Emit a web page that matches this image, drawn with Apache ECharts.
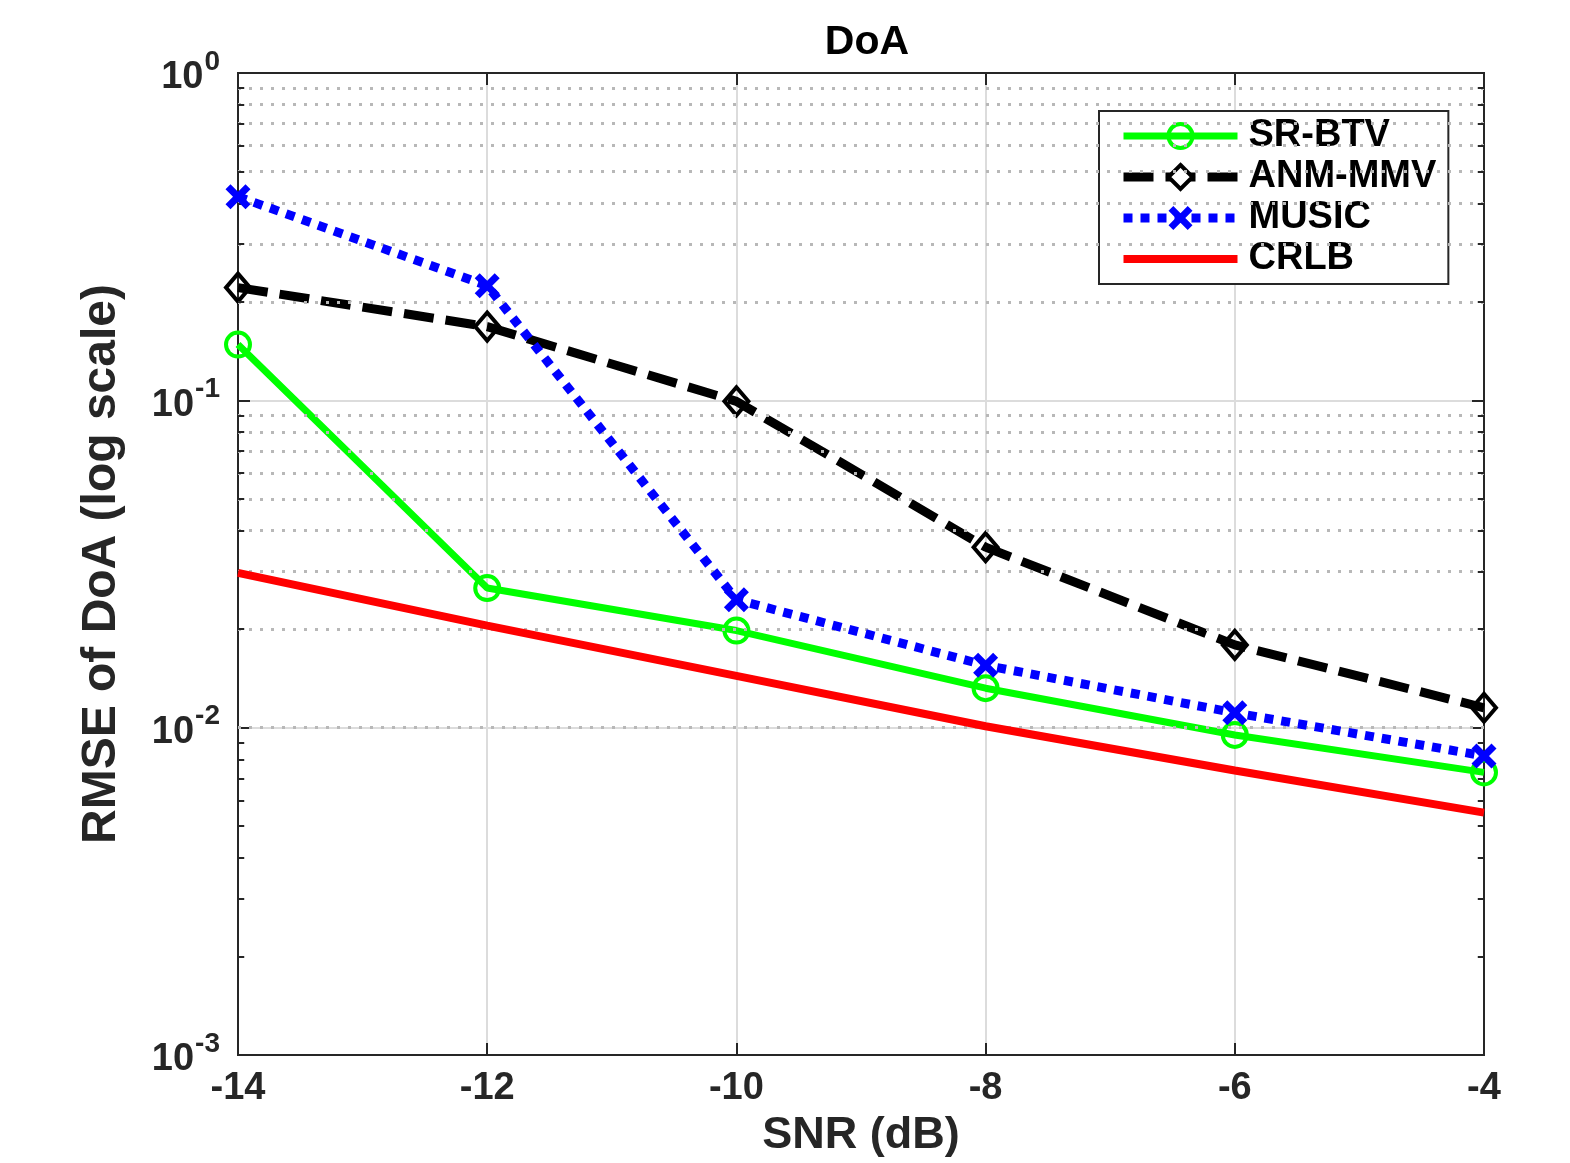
<!DOCTYPE html>
<html>
<head>
<meta charset="utf-8">
<script src="https://cdn.jsdelivr.net/npm/echarts@6/dist/echarts.min.js"></script>
<style>html,body{margin:0;padding:0;background:#fff}#c{width:1570px;height:1163px}</style>
</head>
<body>
<div id="c"></div>
<script>
const snr = [-14, -12, -10, -8, -6, -4];
const srbtv = [0.148, 0.0267, 0.0198, 0.0132, 0.0095, 0.0073];
const anmmmv = [0.221, 0.168, 0.0993, 0.0356, 0.0179, 0.0115];
const music = [0.419, 0.224, 0.0246, 0.0155, 0.0111, 0.0082];
const crlb = [0.0297, 0.0205, 0.0144, 0.0101, 0.0074, 0.0055];
const minorVals = [];
[0.001, 0.01, 0.1].forEach(d => { for (let k = 2; k <= 9; k++) minorVals.push(+(d * k).toPrecision(3)); });

const FONT = '"Liberation Sans", Arial, sans-serif';
const pair = arr => snr.map((x, i) => [x, arr[i]]);

const minorGrid = minorVals.map(v => ({ yAxis: v }));
const minorTicks = [];
minorVals.forEach(v => {
  minorTicks.push([{ coord: [-14, v] }, { coord: [-13.95, v] }]);
  minorTicks.push([{ coord: [-4, v] }, { coord: [-4.05, v] }]);
});

const xPath = 'path://M0,2L2,0L5,3L8,0L10,2L7,5L10,8L8,10L5,7L2,10L0,8L3,5Z';

const S = {
  sr: { color: '#00ff00', width: 7, type: 'solid' },
  anm: { color: '#000000', width: 9, type: [30, 12] },
  mu: { color: '#0000ff', width: 9, type: [9, 8] },
  cr: { color: '#ff0000', width: 8, type: 'solid' }
};

const chart = echarts.init(document.getElementById('c'));
chart.setOption({
  animation: false,
  backgroundColor: '#fff',
  title: {
    text: 'DoA', left: 862, top: 17, textAlign: 'center',
    textStyle: { fontFamily: FONT, fontWeight: 'bold', fontSize: 41, color: '#000' }
  },
  grid: { left: 238, right: 86, top: 73, bottom: 106, show: true, borderColor: '#262626', borderWidth: 2, backgroundColor: 'transparent' },
  legend: {
    orient: 'vertical', left: 1099, top: 111, selectedMode: false,
    data: [
      { name: 'SR-BTV', lineStyle: S.sr, itemStyle: { color: 'rgba(255,255,255,0)', borderColor: '#00ff00', borderWidth: 4 } },
      { name: 'ANM-MMV', lineStyle: S.anm, itemStyle: { color: '#ffffff', borderColor: '#000', borderWidth: 4 } },
      { name: 'MUSIC', lineStyle: S.mu, itemStyle: { color: '#0000ff', borderWidth: 0 } },
      { name: 'CRLB', lineStyle: S.cr, itemStyle: { color: 'rgba(0,0,0,0)', borderWidth: 0, opacity: 0 } }
    ],
    backgroundColor: '#fff', borderColor: '#262626', borderWidth: 2,
    padding: [6, 12, 6, 20], itemGap: 3, itemWidth: 114, itemHeight: 30,
    textStyle: { fontFamily: FONT, fontWeight: 'bold', fontSize: 38, color: '#000', lineHeight: 30, padding: [0, 0, 0, 6] }
  },
  xAxis: [{
    type: 'value', min: -14, max: -4, interval: 2, position: 'bottom',
    name: 'SNR (dB)', nameLocation: 'middle', nameGap: 58,
    nameTextStyle: { fontFamily: FONT, fontWeight: 'bold', fontSize: 45, color: '#262626' },
    axisLine: { show: true, lineStyle: { color: '#262626', width: 2 } },
    axisTick: { inside: true, length: 12, lineStyle: { color: '#262626', width: 2 } },
    axisLabel: { margin: 15, fontFamily: FONT, fontWeight: 'bold', fontSize: 38, color: '#262626' },
    splitLine: { show: true, lineStyle: { color: '#dcdcdc', width: 2 } }
  }, {
    type: 'value', min: -14, max: -4, interval: 2, position: 'top',
    axisLine: { show: true, lineStyle: { color: '#262626', width: 2 } },
    axisTick: { inside: true, length: 12, lineStyle: { color: '#262626', width: 2 } },
    axisLabel: { show: false }, splitLine: { show: false }
  }],
  yAxis: [{
    type: 'log', logBase: 10, min: 0.001, max: 1, position: 'left',
    name: 'RMSE of DoA (log scale)', nameLocation: 'middle', nameGap: 112,
    nameTextStyle: { fontFamily: FONT, fontWeight: 'bold', fontSize: 48, color: '#262626' },
    axisLine: { show: true, lineStyle: { color: '#262626', width: 2 } },
    axisTick: { inside: true, length: 12, lineStyle: { color: '#262626', width: 2 } },
    axisLabel: {
      margin: 18,
      formatter: v => '{b|10}{s|' + Math.round(Math.log10(v)) + '}',
      rich: {
        b: { fontFamily: FONT, fontWeight: 'bold', fontSize: 38, color: '#262626', padding: [10, 0, 0, 0] },
        s: { fontFamily: FONT, fontWeight: 'bold', fontSize: 28, color: '#262626', padding: [0, 0, 22, 1] }
      }
    },
    splitLine: { show: true, lineStyle: { color: '#dcdcdc', width: 2 } },
    minorTick: { show: false }, minorSplitLine: { show: false }
  }, {
    type: 'log', logBase: 10, min: 0.001, max: 1, position: 'right',
    axisLine: { show: true, lineStyle: { color: '#262626', width: 2 } },
    axisTick: { inside: true, length: 12, lineStyle: { color: '#262626', width: 2 } },
    axisLabel: { show: false }, splitLine: { show: false }
  }],
  series: [
    {
      name: 'gridminor', type: 'line', data: [], silent: true, z: 1,
      markLine: {
        silent: true, symbol: 'none', label: { show: false },
        lineStyle: { color: '#b8b8b8', width: 3, type: [3, 8] },
        data: minorGrid
      }
    },
    {
      name: 'ticksminor', type: 'line', data: [], silent: true, z: 1,
      markLine: {
        silent: true, symbol: 'none', label: { show: false },
        lineStyle: { color: '#262626', width: 2, type: 'solid' },
        data: minorTicks
      }
    },
    {
      name: 'SR-BTV', type: 'line', data: pair(srbtv), z: 3,
      symbol: 'circle', symbolSize: 24,
      lineStyle: S.sr,
      itemStyle: { color: 'rgba(255,255,255,0)', borderColor: '#00ff00', borderWidth: 4 }
    },
    {
      name: 'ANM-MMV', type: 'line', data: pair(anmmmv), z: 4,
      symbol: 'diamond', symbolSize: [24, 28],
      lineStyle: S.anm,
      itemStyle: { color: 'rgba(255,255,255,0)', borderColor: '#000', borderWidth: 4 }
    },
    {
      name: 'MUSIC', type: 'line', data: pair(music), z: 5,
      symbol: xPath, symbolSize: 25,
      lineStyle: S.mu,
      itemStyle: { color: '#0000ff', borderWidth: 0 }
    },
    {
      name: 'CRLB', type: 'line', data: pair(crlb), z: 6,
      symbol: 'none', showSymbol: false,
      lineStyle: S.cr,
      itemStyle: { color: '#ff0000' }
    }
  ]
});
</script>
</body>
</html>
